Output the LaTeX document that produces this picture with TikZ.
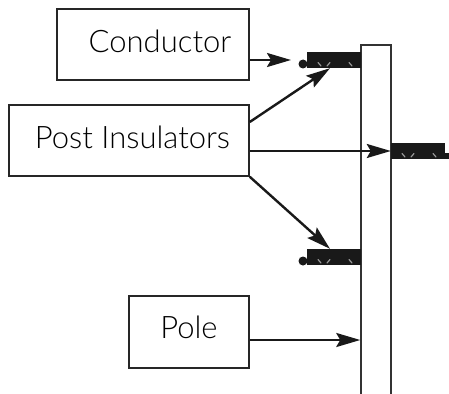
\documentclass[tikz,border=0pt]{standalone}
\usepackage{fontspec}
\setmainfont{Lato Light}
\usepackage{tikz}
\usetikzlibrary{arrows.meta, positioning, calc}

\begin{document}
\begin{tikzpicture}[
    x=1pt, y=-1pt,
    label_box/.style={rectangle, draw=black!85, line width=1.5pt, fill=white, inner sep=0pt, font=\fontsize{31}{34}\selectfont},
    insulator/.style={rectangle, fill=black!90, inner sep=0pt, minimum width=54pt, minimum height=16pt},
    pin/.style={circle, fill=black!90, inner sep=0pt, minimum size=9pt},
    mast/.style={rectangle, draw=black!80, line width=1.5pt, fill=white, inner sep=0pt, minimum width=30pt, minimum height=355pt},
    tick_mark/.style={draw=white!60!black, line width=1.2pt, line cap=round},
    line/.style={draw=black!90, line width=2.4pt, -{Stealth[length=24pt, width=14pt, inset=4pt]}}
]
\useasboundingbox (0,0) rectangle (449,393);

% Pole and boxes
\node [mast] (pole) at (376,222.5) {};
\node [label_box, minimum width=192pt, minimum height=71pt] (conductor) at (153,44.5) {\raisebox{6pt}{\hspace*{14pt}Conductor}};
\node [label_box, minimum width=240pt, minimum height=71pt] (post) at (129,140.5) {\raisebox{6pt}{\hspace*{7pt}Post Insulators}};
\node [label_box, minimum width=120pt, minimum height=72pt] (polebox) at (189,332) {\raisebox{9pt}{Pole}};

% Insulators on the pole
\node [insulator] (upper) at (334,60) {};
\node [pin] (upperpin) at (303,64) {};
\node [insulator] (lower) at (334,257) {};
\node [pin] (lowerpin) at (303,261) {};
\node [insulator] (side) at (418,151) {};
\coordinate (conductorend) at (291,60);

% White marks
\foreach \ins in {upper, lower, side} {
    \draw [tick_mark] ($(\ins.center)+(-16,2.5)$) -- ++(3,3.5);
    \draw [tick_mark] ($(\ins.center)+(-4,2.5)$) -- ++(-3,3.5);
    \draw [tick_mark] ($(\ins.center)+(15,2.5)$) -- ++(3,3.5);
}
\fill [black!90] (445,153) rectangle (449,159);

% Connections
\path [line] ([yshift=-15.5pt]conductor.east) -- (conductorend);
\path [line] ([yshift=18.5pt]post.east) -- ([xshift=-4pt]upper.south);
\path [line] ([yshift=-10.5pt]post.east) -- (side.west);
\path [line] (post.south east) -- ([xshift=-4pt]lower.north);
\path [line] ([yshift=-8pt]polebox.east) -- ([yshift=-8pt]polebox.east -| pole.west);

\end{tikzpicture}
\end{document}
